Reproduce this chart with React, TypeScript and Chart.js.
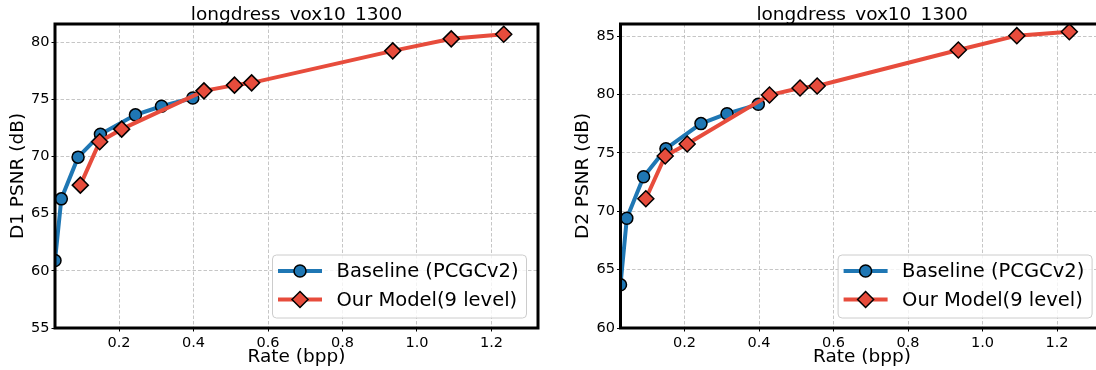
import React, { useEffect, useRef } from "react";
import { Chart, registerables } from "chart.js";

Chart.register(...registerables);

const chartTitle = "longdress_vox10_1300";
const xAxisTitle = "Rate (bpp)";
const seriesNames = ["Baseline (PCGCv2)", "Our Model(9 level)"];

const baselineRate = [0.028, 0.045, 0.09, 0.15, 0.244, 0.314, 0.398];
const oursRate = [0.096, 0.148, 0.207, 0.428, 0.51, 0.556, 0.935, 1.092, 1.233];

const baselineD1 = [60.9, 66.3, 69.95, 71.95, 73.65, 74.4, 75.13];
const oursD1 = [67.5, 71.3, 72.4, 75.75, 76.25, 76.45, 79.25, 80.3, 80.7];

const baselineD2 = [63.7, 69.4, 72.95, 75.35, 77.5, 78.35, 79.15];
const oursD2 = [71.07, 74.73, 75.75, 79.95, 80.55, 80.72, 83.8, 85.03, 85.37];

const xTicks = [0.2, 0.4, 0.6, 0.8, 1.0, 1.2];
const yTicksD1 = [55, 60, 65, 70, 75, 80];
const yTicksD2 = [60, 65, 70, 75, 80, 85];

const BLUE = "#1f77b4";
const RED = "#e74c3c";
const FONT = "'DejaVu Sans', sans-serif";

type PanelProps = {
  left: number;
  width: number;
  yWidth: number;
  padRight: number;
  yTitle: string;
  baseline: number[];
  ours: number[];
  yMin: number;
  yMax: number;
  yTicks: number[];
};

function drawMarker(ctx: CanvasRenderingContext2D, kind: string, x: number, y: number, color: string) {
  ctx.save();
  ctx.beginPath();
  if (kind === "circle") {
    ctx.arc(x, y, 6, 0, Math.PI * 2);
  } else {
    const r = 8;
    ctx.moveTo(x, y - r);
    ctx.lineTo(x + r, y);
    ctx.lineTo(x, y + r);
    ctx.lineTo(x - r, y);
    ctx.closePath();
  }
  ctx.fillStyle = color;
  ctx.fill();
  ctx.lineWidth = 1.5;
  ctx.strokeStyle = "#000";
  ctx.stroke();
  ctx.restore();
}

const decorPlugin = {
  id: "decor",
  afterDraw(chart: any) {
    const ctx: CanvasRenderingContext2D = chart.ctx;
    const ca = chart.chartArea;
    ctx.save();
    // frame
    ctx.lineWidth = 3;
    ctx.strokeStyle = "#000";
    ctx.strokeRect(ca.left, ca.top, ca.right - ca.left, ca.bottom - ca.top);
    // title
    ctx.fillStyle = "#000";
    ctx.font = `18.5px ${FONT}`;
    ctx.textAlign = "center";
    ctx.textBaseline = "alphabetic";
    ctx.fillText(chartTitle, (ca.left + ca.right) / 2, 20);
    // legend
    const w = 254;
    const h = 63;
    const L = ca.right - 11.5 - w;
    const T = ca.bottom - 10 - h;
    ctx.beginPath();
    const rr = 4;
    ctx.moveTo(L + rr, T);
    ctx.lineTo(L + w - rr, T);
    ctx.arcTo(L + w, T, L + w, T + rr, rr);
    ctx.lineTo(L + w, T + h - rr);
    ctx.arcTo(L + w, T + h, L + w - rr, T + h, rr);
    ctx.lineTo(L + rr, T + h);
    ctx.arcTo(L, T + h, L, T + h - rr, rr);
    ctx.lineTo(L, T + rr);
    ctx.arcTo(L, T, L + rr, T, rr);
    ctx.closePath();
    ctx.fillStyle = "rgba(255,255,255,0.8)";
    ctx.fill();
    ctx.lineWidth = 1;
    ctx.strokeStyle = "#cccccc";
    ctx.stroke();
    const rows = [
      { name: seriesNames[0], color: BLUE, kind: "circle", y: T + 16 },
      { name: seriesNames[1], color: RED, kind: "diamond", y: T + 44.5 },
    ];
    rows.forEach((r) => {
      ctx.beginPath();
      ctx.moveTo(L + 5.5, r.y);
      ctx.lineTo(L + 49.5, r.y);
      ctx.lineWidth = 4;
      ctx.strokeStyle = r.color;
      ctx.stroke();
      drawMarker(ctx, r.kind, L + 27.5, r.y, r.color);
      ctx.fillStyle = "#000";
      ctx.font = `19.5px ${FONT}`;
      ctx.textAlign = "left";
      ctx.textBaseline = "middle";
      ctx.fillText(r.name, L + 64, r.y + 1);
    });
    ctx.restore();
  },
};

const gridOpts = {
  color: "#b8b8b8",
  lineWidth: 0.8,
  drawTicks: true,
  tickLength: 3.5,
  tickColor: "#000",
  tickWidth: 1,
  tickBorderDash: [],
} as any;

const borderOpts = { display: false, dash: [3.5, 2], dashOffset: 0 } as any;

function Panel(p: PanelProps) {
  const ref = useRef<HTMLCanvasElement>(null);
  useEffect(() => {
    if (!ref.current) return;
    const chart = new Chart(ref.current, {
      type: "line",
      data: {
        datasets: [
          {
            label: seriesNames[1],
            data: oursRate.map((x, i) => ({ x, y: p.ours[i] })),
            borderColor: RED,
            backgroundColor: RED,
            borderWidth: 4,
            pointStyle: "rectRot",
            pointRadius: 8,
            pointBorderWidth: 1.5,
            pointBorderColor: "#000",
            pointBackgroundColor: RED,
            tension: 0,
            clip: 0,
            order: 0,
          },
          {
            label: seriesNames[0],
            data: baselineRate.map((x, i) => ({ x, y: p.baseline[i] })),
            borderColor: BLUE,
            backgroundColor: BLUE,
            borderWidth: 4,
            pointStyle: "circle",
            pointRadius: 6,
            pointBorderWidth: 1.5,
            pointBorderColor: "#000",
            pointBackgroundColor: BLUE,
            tension: 0,
            clip: 0,
            order: 1,
          },
        ] as any,
      },
      options: {
        animation: false,
        responsive: true,
        maintainAspectRatio: false,
        layout: { padding: { left: 0, top: 24, right: p.padRight, bottom: 0 } },
        plugins: {
          legend: { display: false },
          tooltip: { enabled: false },
          title: { display: false },
        },
        scales: {
          x: {
            type: "linear",
            min: 0.028,
            max: 1.325,
            afterFit: (s: any) => {
              s.height = 42;
            },
            afterBuildTicks: (s: any) => {
              s.ticks = xTicks.map((v) => ({ value: v }));
            },
            ticks: {
              font: { family: FONT, size: 14.5 },
              color: "#000",
              padding: 3,
              maxRotation: 0,
              callback: (v: any) => Number(v).toFixed(1),
            },
            grid: gridOpts,
            border: borderOpts,
            title: {
              display: true,
              text: xAxisTitle,
              font: { family: FONT, size: 18.5 },
              color: "#000",
              padding: { top: 0, bottom: 2 },
            },
          },
          y: {
            type: "linear",
            min: p.yMin,
            max: p.yMax,
            afterFit: (s: any) => {
              s.width = p.yWidth;
            },
            afterBuildTicks: (s: any) => {
              s.ticks = p.yTicks.map((v) => ({ value: v }));
            },
            ticks: {
              font: { family: FONT, size: 14.5 },
              color: "#000",
              padding: 2,
              callback: (v: any) => String(v),
            },
            grid: gridOpts,
            border: borderOpts,
            title: {
              display: true,
              text: p.yTitle,
              font: { family: FONT, size: 18.5 },
              color: "#000",
              padding: { top: 7 + (p.yWidth - 55), bottom: 0 },
            },
          },
        },
      },
      plugins: [decorPlugin],
    });
    return () => chart.destroy();
  }, []);
  return (
    <div style={{ position: "absolute", left: p.left, top: 0, width: p.width, height: 370 }}>
      <canvas ref={ref} />
    </div>
  );
}

export default function App() {
  return (
    <div
      style={{
        position: "fixed",
        left: 0,
        top: 0,
        width: 1096,
        height: 370,
        overflow: "hidden",
        background: "#fff",
      }}
    >
      <Panel
        left={0}
        width={550}
        yWidth={55}
        padRight={12}
        yTitle="D1 PSNR (dB)"
        baseline={baselineD1}
        ours={oursD1}
        yMin={55}
        yMax={81.6}
        yTicks={yTicksD1}
      />
      <Panel
        left={560}
        width={560}
        yWidth={60.5}
        padRight={16.4}
        yTitle="D2 PSNR (dB)"
        baseline={baselineD2}
        ours={oursD2}
        yMin={60}
        yMax={86.03}
        yTicks={yTicksD2}
      />
    </div>
  );
}
